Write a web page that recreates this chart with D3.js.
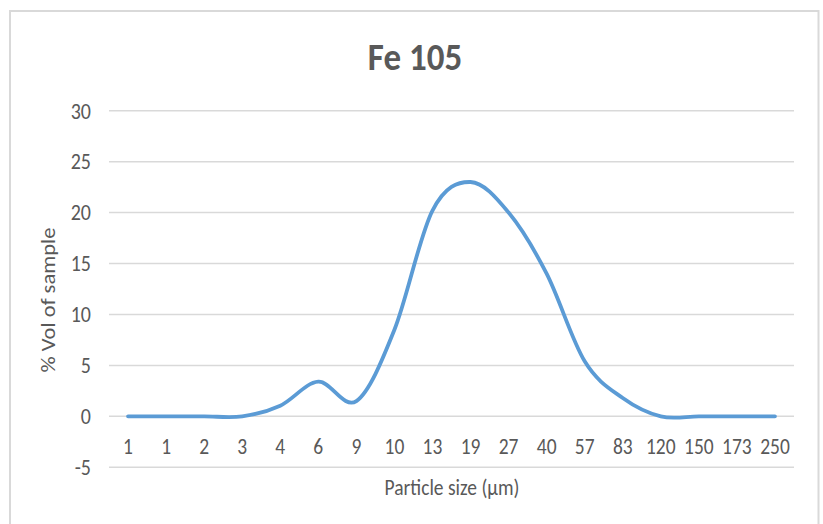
<!DOCTYPE html>
<html><head><meta charset="utf-8">
<script src="https://cdn.jsdelivr.net/npm/d3@7/dist/d3.min.js"></script>
<style>body{margin:0;background:#fff}svg{display:block}</style>
</head><body><svg id="c" width="823" height="524"></svg>
<script>
const categories = ["1","1","2","3","4","6","9","10","13","19","27","40","57","83","120","150","173","250"];
const values = [0,0,0,0,1.05,3.4,1.5,8.5,20.2,23,20,14,5.4,1.8,0,0,0,0];
const yTicks = [-5,0,5,10,15,20,25,30];

const svg = d3.select("#c");
const font = "Calibri, Carlito, 'Open Sans', sans-serif";
const gray = "#595959";
const L = 109, R = 794, T = 110.7, B = 467.3;
const SY = 1.1;

svg.append("rect").attr("x",10).attr("y",11).attr("width",808.5).attr("height",530)
  .attr("fill","#fff").attr("stroke","#d9d9d9").attr("stroke-width",2);

const x = d3.scaleBand().domain(d3.range(categories.length)).range([L,R]);
const y = d3.scaleLinear().domain([-5,30]).range([B,T]);

svg.append("g").selectAll("line").data(yTicks).join("line")
  .attr("x1",L).attr("x2",R).attr("y1",d=>y(d)).attr("y2",d=>y(d))
  .attr("stroke","#d9d9d9").attr("stroke-width",1.5);

const yAxis = d3.axisLeft(y).tickValues(yTicks).tickFormat(d=>String(d)).tickSize(0).tickPadding(0);
const gy = svg.append("g").attr("transform",`translate(${L-18},0)`).call(yAxis);
gy.select(".domain").remove();
gy.selectAll("text").attr("fill",gray).style("font-family",font).style("font-size","20px")
  .attr("x",0).attr("dy",null).attr("dominant-baseline","central").attr("transform",`scale(1,${SY})`);

const xAxis = d3.axisBottom(x).tickFormat(i=>categories[i]).tickSize(0).tickPadding(0);
const gx = svg.append("g").attr("transform",`translate(0,${y(0)+30})`).call(xAxis);
gx.select(".domain").remove();
gx.selectAll("text").attr("fill",gray).style("font-family",font).style("font-size","19.5px")
  .attr("dy",null).attr("y",0).attr("dominant-baseline","central").attr("transform",`scale(1,${SY})`);

const line = d3.line().x((d,i)=>x(i)+x.bandwidth()/2).y(d=>y(d)).curve(d3.curveCatmullRom.alpha(0));
svg.append("path").datum(values).attr("d",line).attr("fill","none")
  .attr("stroke","#5b9bd5").attr("stroke-width",3.8).attr("stroke-linecap","round");

svg.append("text").attr("transform",`translate(415,57) scale(1,${SY})`).attr("text-anchor","middle").attr("dominant-baseline","central")
  .attr("fill",gray).style("font-family",font).style("font-size","35px").style("font-weight","bold").text("Fe 105");

svg.append("text").attr("transform",`translate(452,488) scale(1,${SY})`).attr("text-anchor","middle").attr("dominant-baseline","central")
  .attr("fill",gray).style("font-family",font).style("font-size","19.5px").text("Particle size (µm)");

svg.append("text").attr("transform",`translate(48,300) scale(1,${SY}) rotate(-90)`).attr("text-anchor","middle").attr("dominant-baseline","central")
  .attr("fill",gray).style("font-family",font).style("font-size","20.5px").text("% Vol of sample");
</script></body></html>
